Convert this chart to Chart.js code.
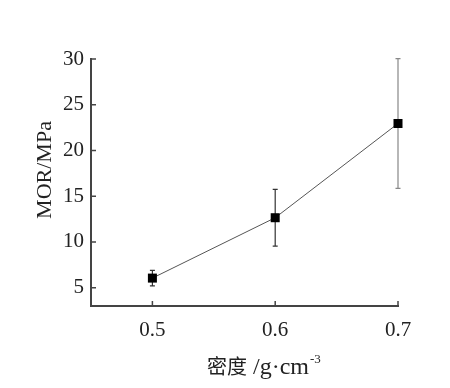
<!DOCTYPE html>
<html>
<head>
<meta charset="utf-8">
<script src="https://cdn.jsdelivr.net/npm/chart.js@4.4.1/dist/chart.umd.min.js"></script>
<style>
  html, body { margin: 0; padding: 0; background: #fff; }
  #wrap { width: 450px; height: 388px; }
</style>
</head>
<body>
<div id="wrap"><canvas id="chart"></canvas></div>
<script>
// Dichte und MOR-Werte
const dichte = [0.5, 0.6, 0.7];
const morWerte = [6.05, 12.65, 22.95];
const fehler = [0.85, 3.1, 7.1];
const xTicks = [0.5, 0.6, 0.7];
const yTicks = [5, 10, 15, 20, 25, 30];
const xTitelCn = "密度";
const xTitelEinheit = " /g·cm";
const xTitelHoch = "-3";
const yTitel = "MOR/MPa";

const serif = "'Liberation Serif', 'Times New Roman', 'Noto Sans CJK SC', serif";

// Fehlerbalken, nach innen zeigende Ticks und Achsentitel
const fehlerbalkenPlugin = {
  id: "fehlerbalken",
  afterDatasetsDraw(chart, args, opts) {
    const ctx = chart.ctx;
    const xs = chart.scales.x;
    const ys = chart.scales.y;
    ctx.save();
    ctx.lineWidth = 1.2;
    dichte.forEach((d, i) => {
      const x = xs.getPixelForValue(d);
      const yo = ys.getPixelForValue(morWerte[i] + fehler[i]);
      const yu = ys.getPixelForValue(morWerte[i] - fehler[i]);
      ctx.strokeStyle = opts.farben[i];
      ctx.beginPath();
      ctx.moveTo(x, yo);
      ctx.lineTo(x, yu);
      ctx.moveTo(x - 2.5, yo);
      ctx.lineTo(x + 2.5, yo);
      ctx.moveTo(x - 2.5, yu);
      ctx.lineTo(x + 2.5, yu);
      ctx.stroke();
    });
    // Punkte nochmal oben drauf
    const meta = chart.getDatasetMeta(0);
    ctx.fillStyle = "#000";
    meta.data.forEach((p) => {
      ctx.fillRect(p.x - 4.5, p.y - 4.5, 9, 9);
    });
    ctx.restore();
  },
  afterDraw(chart) {
    const ctx = chart.ctx;
    const xs = chart.scales.x;
    const ys = chart.scales.y;
    const area = chart.chartArea;
    ctx.save();
    ctx.strokeStyle = "#444";
    ctx.lineWidth = 1.5;
    ctx.beginPath();
    yTicks.forEach((v) => {
      const y = ys.getPixelForValue(v);
      ctx.moveTo(area.left, y);
      ctx.lineTo(area.left + 5, y);
    });
    xTicks.forEach((v) => {
      const x = xs.getPixelForValue(v);
      ctx.moveTo(x, area.bottom);
      ctx.lineTo(x, area.bottom - 5);
    });
    ctx.stroke();

    // x-Titel mit Hochstellung
    ctx.fillStyle = "#222";
    ctx.textBaseline = "alphabetic";
    ctx.textAlign = "left";
    let tx = area.left + 116;
    const ty = area.bottom + 68;
    ctx.font = "20px " + serif;
    ctx.fillText(xTitelCn, tx, ty);
    tx += ctx.measureText(xTitelCn).width;
    ctx.font = "24px " + serif;
    ctx.fillText(xTitelEinheit, tx, ty);
    tx += ctx.measureText(xTitelEinheit).width;
    ctx.font = "13px " + serif;
    ctx.fillText(xTitelHoch, tx + 1, ty - 11);

    // y-Titel gedreht
    ctx.font = "22px " + serif;
    ctx.textAlign = "center";
    ctx.textBaseline = "middle";
    ctx.translate(45, area.top + 111);
    ctx.rotate(-Math.PI / 2);
    ctx.fillText(yTitel, 0, 0);
    ctx.restore();
  },
};

const ctx = document.getElementById("chart").getContext("2d");
const chart = new Chart(ctx, {
  type: "line",
  data: {
    datasets: [
      {
        data: dichte.map((d, i) => ({ x: d, y: morWerte[i] })),
        borderColor: "#555",
        borderWidth: 1,
        pointStyle: "rect",
        pointRadius: 4.5,
        pointBackgroundColor: "#000",
        pointBorderColor: "#000",
        pointBorderWidth: 0,
        tension: 0,
      },
    ],
  },
  options: {
    responsive: true,
    maintainAspectRatio: false,
    animation: false,
    layout: {
      padding: { top: 59, right: 52, left: 0, bottom: 0 },
    },
    plugins: {
      legend: { display: false },
      tooltip: { enabled: false },
      fehlerbalken: {
        farben: ["#333", "#333", "#888"],
      },
    },
    scales: {
      x: {
        type: "linear",
        min: 0.45,
        max: 0.7,
        afterBuildTicks(scale) {
          scale.ticks = xTicks.map((v) => ({ value: v }));
        },
        afterFit(scale) {
          scale.height = 82;
        },
        grid: { display: false, drawTicks: false },
        border: { display: true, color: "#444", width: 2 },
        ticks: {
          padding: 12,
          color: "#222",
          font: { family: serif, size: 21 },
          callback: (v) => v.toFixed(1),
        },
      },
      y: {
        min: 3,
        max: 30,
        afterBuildTicks(scale) {
          scale.ticks = yTicks.map((v) => ({ value: v }));
        },
        afterFit(scale) {
          scale.width = 91;
        },
        grid: { display: false, drawTicks: false },
        border: { display: true, color: "#444", width: 2 },
        ticks: {
          padding: 7,
          color: "#222",
          font: { family: serif, size: 21 },
        },
      },
    },
  },
  plugins: [fehlerbalkenPlugin],
});
</script>
</body>
</html>
